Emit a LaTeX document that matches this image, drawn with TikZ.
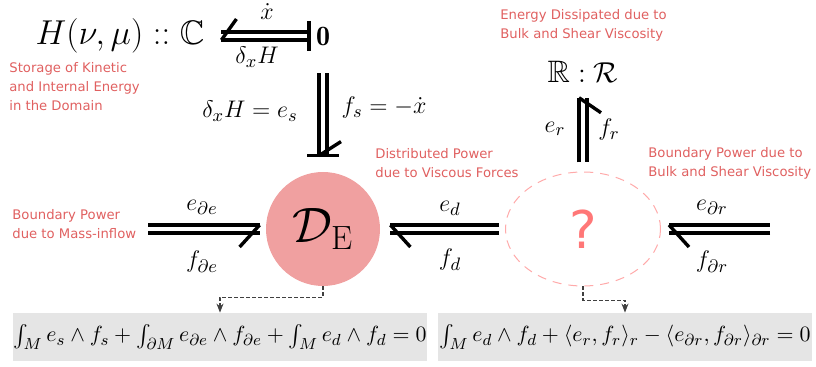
\documentclass[tikz,border=0pt]{standalone}
\usepackage{amsmath,amssymb}
\usepackage{fontspec}
\newfontfamily\notefont{DejaVu Sans}
\usetikzlibrary{calc,shapes.geometric,arrows.meta}

\definecolor{notered}{HTML}{E06060}
\definecolor{domainfill}{HTML}{F0A0A0}
\definecolor{unknownred}{HTML}{FF7777}
\definecolor{unknownline}{HTML}{FFAAAA}
\definecolor{eqgray}{HTML}{E5E5E5}

\begin{document}
\begin{tikzpicture}[x=0.5pt, y=-0.5pt,
  bond/.style={double, double distance=2.2pt, line width=1.7pt},
  barb/.style={line width=1.7pt},
  causal/.style={line width=1.7pt},
  lbl/.style={inner sep=1pt, font=\fontsize{13}{15}\selectfont},
  note/.style={anchor=west, align=left, inner sep=0pt, text=notered,
    font=\notefont\fontsize{6.6}{9.5}\selectfont},
  eqbox/.style={fill=eqgray, minimum height=24pt, inner sep=0pt,
    font=\fontsize{11}{13}\selectfont},
  flow/.style={draw=black!75, line width=0.6pt, dash pattern=on 2pt off 1pt,
    -{Stealth[length=4.5pt,width=3.5pt]}}]
  \useasboundingbox (0,0) rectangle (816,367);

  % elements
  \node[font=\fontsize{17}{20}\selectfont] (store) at (120,36) {$H(\nu,\mu) :: \mathbb{C}$};
  \node[font=\fontsize{14}{16}\selectfont] (zero) at (323,36) {$\mathbf{0}$};
  \node[circle, fill=domainfill, minimum size=57pt, inner sep=0pt,
    font=\fontsize{24}{28}\selectfont] (DE) at (323,229) {$\mathcal{D}_{\mathrm{E}}$};
  \node[ellipse, draw=unknownline, line width=0.5pt, dash pattern=on 4.5pt off 3.5pt,
    minimum width=77.5pt, minimum height=57pt, inner sep=0pt, text=unknownred,
    font=\notefont\fontsize{26}{30}\selectfont] (Q) at (583,229) {?};
  \node[font=\fontsize{15.5}{18}\selectfont] (RR) at (583,72) {$\mathbb{R} : \mathcal{R}$};
  \coordinate (inL) at (148,229);
  \coordinate (inR) at (770,229);

  % storage bond
  \draw[bond, shorten <=5pt] (store) -- (zero);
  \draw[barb] ($(store.east)+(10,4)$) -- ++(15,-21);
  \draw[causal] ($(zero.west)+(0,-15)$) -- ++(0,30);

  % storage to domain
  \draw[bond, shorten <=10.5pt, shorten >=8pt] (zero) -- (DE);
  \draw[causal] ($(DE.north)+(-16,-16)$) -- ++(32,0);
  \draw[barb] ($(DE.north)+(-4,-16)$) -- ++(22,-14);

  % mass inflow
  \draw[bond, shorten >=3pt] (inL) -- (DE);
  \draw[barb] ($(DE.west)+(-6,-4)$) -- ++(-20,22);

  % distributed power
  \draw[bond, shorten <=5pt, shorten >=3pt] (DE) -- (Q);
  \draw[barb] ($(DE.east)+(10,-4)$) -- ++(20,22);

  % viscous boundary
  \draw[bond, shorten >=4pt] (inR) -- (Q);
  \draw[barb] ($(Q.east)+(8,-4)$) -- ++(20,22);

  % dissipation
  \draw[bond, shorten <=4.5pt, shorten >=4pt] (Q) -- (RR);
  \draw[barb] ($(RR.south)+(-4,8)$) -- ++(22,15);

  % bond labels
  \node[lbl] (xdot) at (267,12) {$\dot{x}$};
  \node[lbl] (dH) at (257,57) {$\delta_x H$};
  \node[lbl] (es) at (250,111) {$\delta_x H = e_s$};
  \node[lbl] (fs) at (384,108) {$f_s = -\dot{x}$};
  \node[lbl] (ebe) at (202,207) {$e_{\partial e}$};
  \node[lbl] (fbe) at (202,262) {$f_{\partial e}$};
  \node[lbl] (ed) at (450,208) {$e_d$};
  \node[lbl] (fd) at (450,260) {$f_d$};
  \node[lbl] (ebr) at (712,207) {$e_{\partial r}$};
  \node[lbl] (fbr) at (712,262) {$f_{\partial r}$};
  \node[lbl] (er) at (555,129) {$e_r$};
  \node[lbl] (fr) at (609,130) {$f_r$};

  % notes
  \node[note] (storenote) at (9,87) {Storage of Kinetic\\and Internal Energy\\in the Domain};
  \node[note] (inflownote) at (12,224) {Boundary Power\\due to Mass-inflow};
  \node[note] (dissnote) at (500,25) {Energy Dissipated due to\\Bulk and Shear Viscosity};
  \node[note] (distnote) at (375,163) {Distributed Power\\due to Viscous Forces};
  \node[note] (bvnote) at (648,163) {Boundary Power due to\\Bulk and Shear Viscosity};

  % power balances
  \node[eqbox, minimum width=205pt] (eqL) at (220,337)
    {$\int_M e_s \wedge f_s + \int_{\partial M} e_{\partial e} \wedge f_{\partial e} + \int_M e_d \wedge f_d = 0$};
  \node[eqbox, minimum width=187pt] (eqR) at (625,337)
    {$\int_M e_d \wedge f_d + \langle e_r, f_r \rangle_r - \langle e_{\partial r}, f_{\partial r} \rangle_{\partial r} = 0$};

  \draw[flow] (DE.south) -- ++(0,11) -| (eqL.north);
  \draw[flow] (Q.south) -- ++(0,14) -| (eqR.north);
\end{tikzpicture}
\end{document}
